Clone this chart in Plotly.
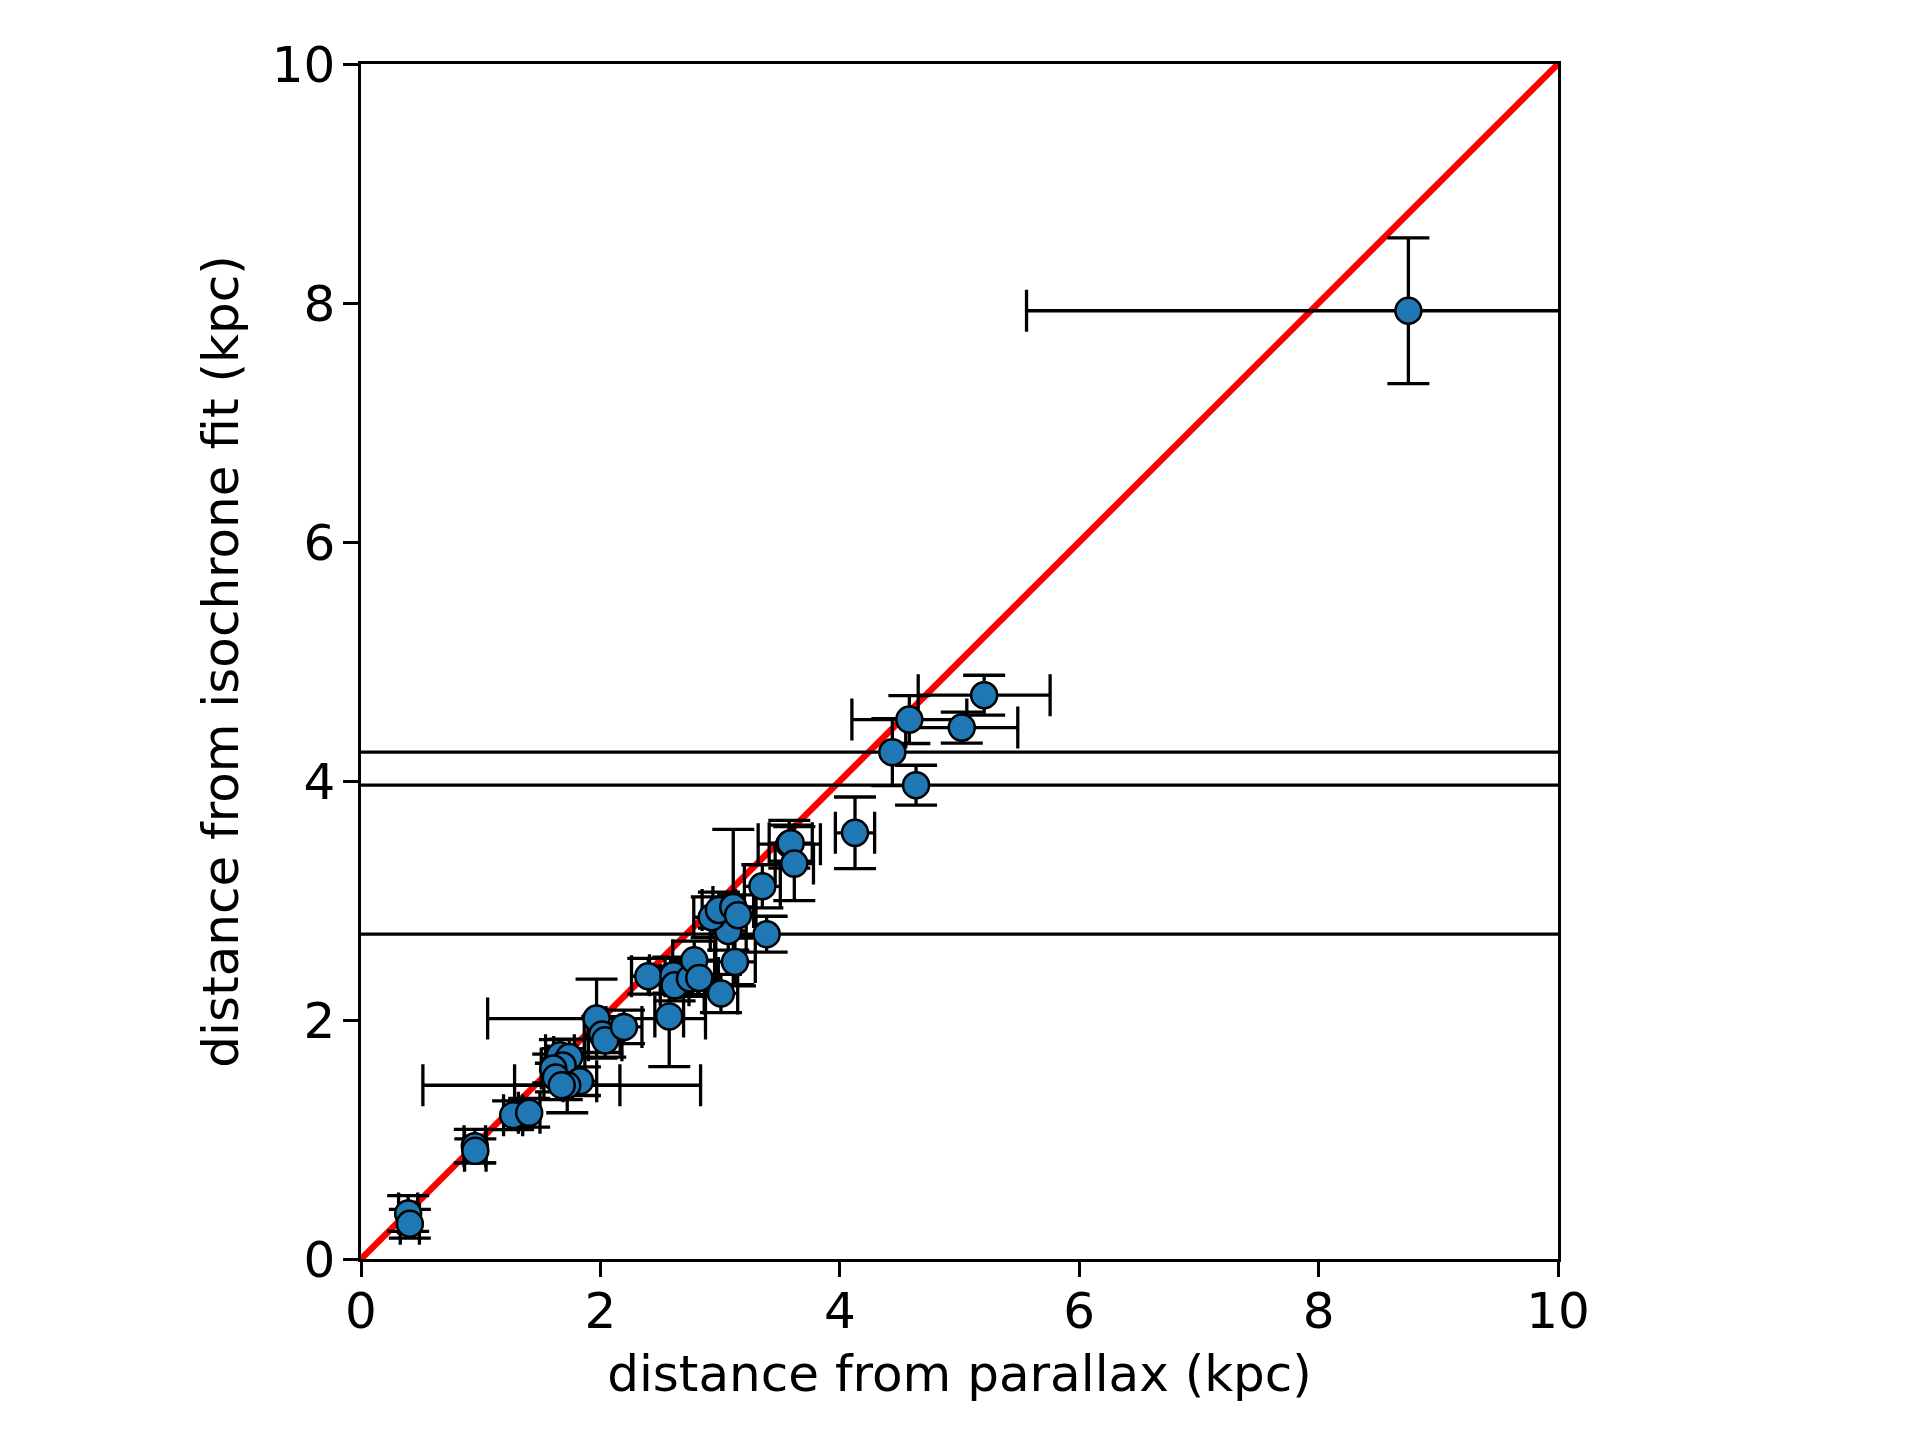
import plotly.graph_objects as go

# distances (kpc)
dist_parallax = [0.394, 0.408, 0.951, 0.955, 1.271, 1.405, 1.662, 1.740, 1.684, 1.606,
                 1.628, 1.829, 1.723, 1.677, 1.968, 2.015, 2.040, 2.197, 2.400, 2.575,
                 2.610, 2.620, 2.748, 2.784, 2.826, 3.007, 3.124, 3.068, 3.389, 2.930,
                 2.990, 3.110, 3.150, 3.353, 3.578, 3.590, 3.620, 4.127, 4.439, 4.581,
                 4.637, 5.019, 5.206, 8.750]
dist_isochrone = [0.381, 0.295, 0.944, 0.905, 1.203, 1.223, 1.705, 1.690, 1.620, 1.594,
                  1.518, 1.488, 1.454, 1.454, 2.012, 1.878, 1.830, 1.942, 2.366, 2.030,
                  2.375, 2.290, 2.347, 2.500, 2.352, 2.222, 2.486, 2.745, 2.718, 2.860,
                  2.920, 2.946, 2.877, 3.119, 3.471, 3.480, 3.309, 3.566, 4.241, 4.514,
                  3.965, 4.447, 4.718, 7.935]
err_parallax = [0.08, 0.08, 0.09, 0.09, 0.08, 0.09, 0.12, 0.13, 0.12, 0.10,
                0.10, 0.14, 0.44, 1.16, 0.91, 0.15, 0.14, 0.15, 0.14, 0.12,
                0.20, 0.12, 0.13, 0.18, 0.16, 0.14, 0.17, 0.15, 7.00, 0.15,
                0.14, 0.17, 0.15, 0.15, 0.26, 0.18, 0.16, 0.164, 7.00, 0.48,
                7.00, 0.468, 0.551, 3.19]
err_isochrone = [0.15, 0.12, 0.14, 0.10, 0.12, 0.12, 0.13, 0.15, 0.14, 0.12,
                 0.12, 0.12, 0.23, 0.12, 0.33, 0.15, 0.14, 0.14, 0.15, 0.42,
                 0.15, 0.13, 0.15, 0.16, 0.14, 0.16, 0.20, 0.16, 0.15, 0.17,
                 0.15, 0.65, 0.17, 0.18, 0.20, 0.15, 0.31, 0.30, 0.28, 0.20,
                 0.167, 0.13, 0.167, 0.61]
line_ends = [0, 10]
tick_vals = [0, 2, 4, 6, 8, 10]

font = "DejaVu Sans"

fig = go.Figure()

# 1:1 line
fig.add_trace(go.Scatter(x=line_ends, y=line_ends, mode="lines",
                         line=dict(color="#ff0000", width=6.5), showlegend=False))

fig.add_trace(go.Scatter(
    x=dist_parallax, y=dist_isochrone, mode="markers",
    marker=dict(size=26, color="#1f77b4", line=dict(color="black", width=2.5)),
    error_x=dict(type="data", array=err_parallax, color="black", thickness=3.3, width=21),
    error_y=dict(type="data", array=err_isochrone, color="black", thickness=3.3, width=21),
    showlegend=False))

axis_style = dict(range=[0, 10], tickvals=tick_vals, showgrid=False, zeroline=False,
                  showline=True, linecolor="black", linewidth=3.3, mirror=True,
                  ticks="outside", ticklen=14.6, tickwidth=3.3, tickcolor="black",
                  tickfont=dict(family=font, size=50, color="black"))

fig.update_xaxes(**axis_style, ticklabelstandoff=-9,
                 title=dict(text="distance from parallax (kpc)", standoff=18,
                            font=dict(family=font, size=50, color="black")))
fig.update_yaxes(**axis_style, ticklabelstandoff=-2,
                 title=dict(text="distance from isochrone fit (kpc)", standoff=18,
                            font=dict(family=font, size=50, color="black")))

# page body has an 8px margin, so shift the plot area up/left by that
fig.update_layout(width=1920, height=1440,
                  margin=dict(l=353, r=370, t=56, b=189, autoexpand=False),
                  plot_bgcolor="white", paper_bgcolor="white")

fig.write_html("out.html")
